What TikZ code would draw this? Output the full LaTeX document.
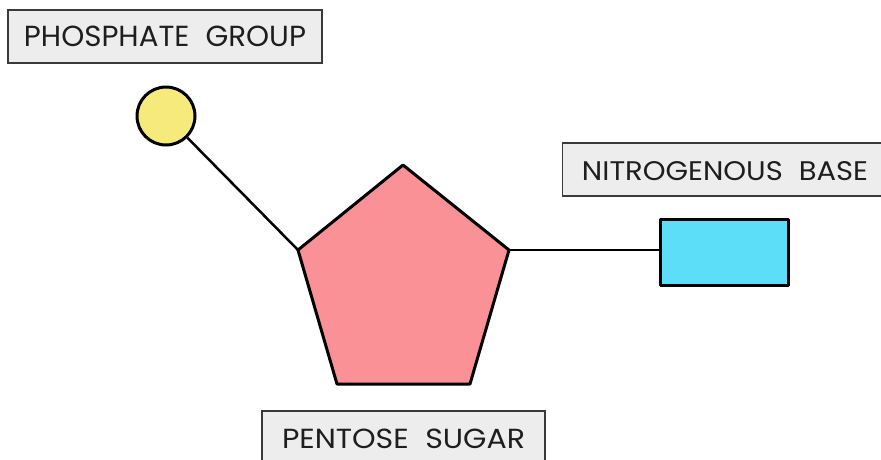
\documentclass[tikz,border=0pt]{standalone}
\usepackage{fontspec}
\setmainfont{Poppins}
\usepackage{graphicx}
\definecolor{boxfill}{HTML}{EDEDED}
\definecolor{boxline}{HTML}{3A3A3A}
\definecolor{phyellow}{HTML}{F6EA7D}
\definecolor{sugarpink}{HTML}{FA9196}
\definecolor{basecyan}{HTML}{5DDEF8}
\definecolor{txt}{HTML}{1E1E1E}
\newcommand{\lbltext}[3]{\resizebox{#1}{#2}{#3}}
\tikzset{
  labelbox/.style={draw=boxline, fill=boxfill, line width=1.3pt, inner sep=0pt, text=txt},
  part/.style={draw=black, line width=3pt, line join=round},
  link/.style={draw=black, line width=2.5pt}
}
\begin{document}
\begin{tikzpicture}[x=1pt,y=-1pt]
\useasboundingbox (0,0) rectangle (881,459);
% labels
\node[labelbox, minimum width=314pt, minimum height=53pt] (phl) at (165,36.5)
  {\lbltext{282pt}{20.5pt}{PHOSPHATE\hspace{0.55em}GROUP}};
\node[labelbox, minimum width=330pt, minimum height=53pt, anchor=west] (nbl) at (562,169.5) {};
\node[text=txt] (nbt) at (725,171) {\lbltext{286pt}{19pt}{NITROGENOUS\hspace{0.55em}BASE}};
\node[labelbox, minimum width=283pt, minimum height=56pt] (psl) at (403.5,439)
  {\lbltext{243pt}{19.5pt}{PENTOSE\hspace{0.55em}SUGAR}};
% pentagon
\coordinate (pt) at (403,165);
\coordinate (pr) at (509,250);
\coordinate (pbr) at (470,384);
\coordinate (pbl) at (337,384);
\coordinate (pl) at (298,250);
% links (under shapes)
\node[part, fill=phyellow, circle, minimum size=58pt, inner sep=0pt] (ph) at (166,116) {};
\node[part, fill=basecyan, rectangle, minimum width=128pt, minimum height=66pt, inner sep=0pt] (nb) at (724,252) {};
\draw[link] (ph) -- (pl);
\draw[link] (pr) -- (pr -| nb.west);
\draw[part, fill=sugarpink] (pt) -- (pr) -- (pbr) -- (pbl) -- (pl) -- cycle;
\end{tikzpicture}
\end{document}
